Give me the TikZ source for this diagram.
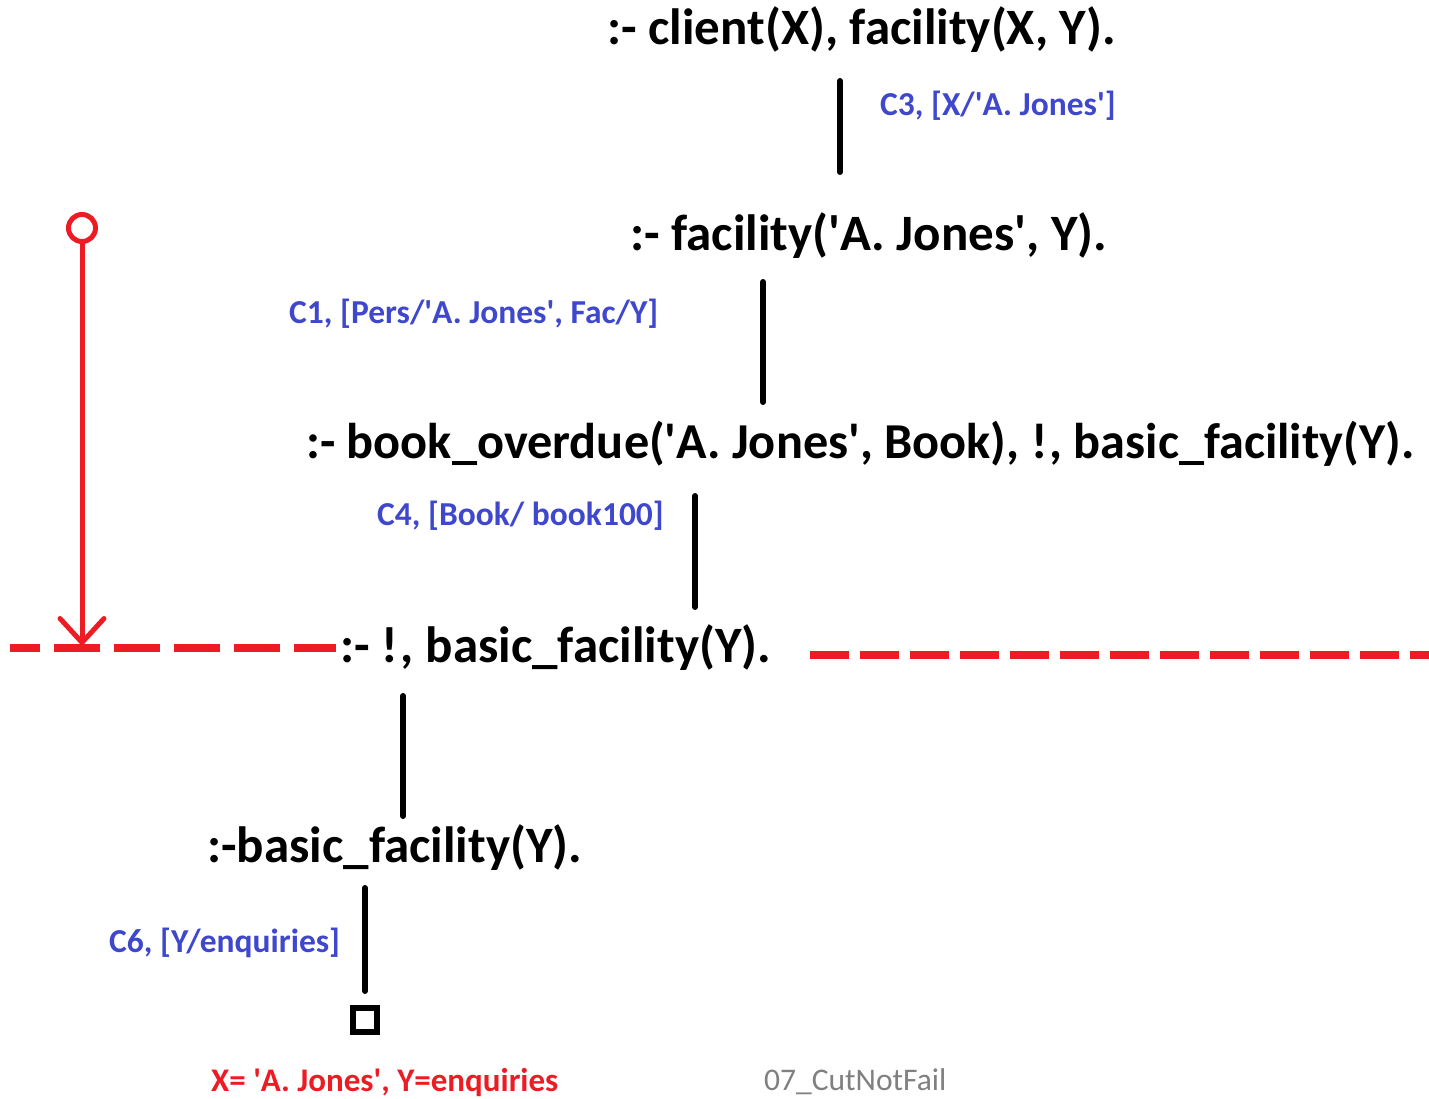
\documentclass[tikz,border=0pt]{standalone}
\usepackage{fontspec}
\setmainfont{Carlito}
\usetikzlibrary{arrows.meta}
\definecolor{pred}{HTML}{ED1C24}
\definecolor{pblue}{HTML}{3F48CC}
\definecolor{pgray}{HTML}{808080}
\newcommand{\q}{\textquotesingle}
\tikzset{
  goal/.style={anchor=west, inner sep=0pt, font=\fontsize{51}{56}\selectfont\bfseries, text=black},
  subst/.style={anchor=west, inner sep=0pt, font=\fontsize{33.5}{38}\selectfont\bfseries, text=pblue},
  edge/.style={line width=6pt, line cap=round, black},
  cutline/.style={line width=8pt, pred},
}
\begin{document}
\begin{tikzpicture}[x=1pt,y=-1pt]
\useasboundingbox (0,0) rectangle (1429,1099);
% goals
\node[goal] (g1) at (607,30) {:- client(X), facility(X, Y).};
\node[goal] (g2) at (630,236) {:- facility(\q A. Jones\q, Y).};
\node[goal, font=\fontsize{50.3}{56}\selectfont\bfseries] (g3) at (306,444) {:- book\_overdue(\q A. Jones\q, Book), !\kern2pt, basic\_facility(Y).};
\node[goal] (g4) at (340,648) {:- !\kern3pt, basic\_facility(Y).};
\node[goal] (g5) at (207,848) {:-basic\_facility(Y).};
% substitutions
\node[subst] (s1) at (880,106) {C3, [X/\q A. Jones\q]};
\node[subst] (s2) at (289,314) {C1, [Pers/\q A. Jones\q, Fac/Y]};
\node[subst] (s3) at (377,516) {C4, [Book/ book100]};
\node[subst] (s4) at (109,943) {C6, [Y/enquiries]};
% edge ends
\coordinate (a1) at (840,81); \coordinate (b1) at (840,172);
\coordinate (a2) at (763,282); \coordinate (b2) at (763,402);
\coordinate (a3) at (695,496); \coordinate (b3) at (695,607);
\coordinate (a4) at (403,696); \coordinate (b4) at (403,816);
\coordinate (a5) at (365,888); \coordinate (b5) at (365,991);
\draw[edge] (a1) -- (b1);
\draw[edge] (a2) -- (b2);
\draw[edge] (a3) -- (b3);
\draw[edge] (a4) -- (b4);
\draw[edge] (a5) -- (b5);
% success box
\node[draw=black, line width=6pt, minimum size=24pt, inner sep=0pt] (box) at (365,1020) {};
% answer
\node[anchor=west, inner sep=0pt, font=\fontsize{33}{38}\selectfont\bfseries, text=pred] (ans) at (211,1083) {X= \q A. Jones\q, Y=enquiries};
\node[anchor=west, inner sep=0pt, font=\fontsize{31.5}{36}\selectfont, text=pgray] (cap) at (764,1082) {07\_CutNotFail};
% cut lines
\coordinate (cl0) at (10,648); \coordinate (cl1) at (336,648);
\coordinate (cr0) at (810,655); \coordinate (cr1) at (1429,655);
\draw[cutline, dash pattern=on 46pt off 14pt, dash phase=16pt] (cl0) -- (cl1);
\draw[cutline, dash pattern=on 39pt off 11pt] (cr0) -- (cr1);
% cut arrow
\node[circle, draw=pred, line width=5pt, minimum size=27pt, inner sep=0pt] (cutstart) at (82,228) {};
\coordinate (cuttip) at (82,645);
\draw[pred, line width=5pt, -{Straight Barb[length=24pt, width=44pt, line width=5pt, round]}] (cutstart.south) -- (cuttip);
\end{tikzpicture}
\end{document}
